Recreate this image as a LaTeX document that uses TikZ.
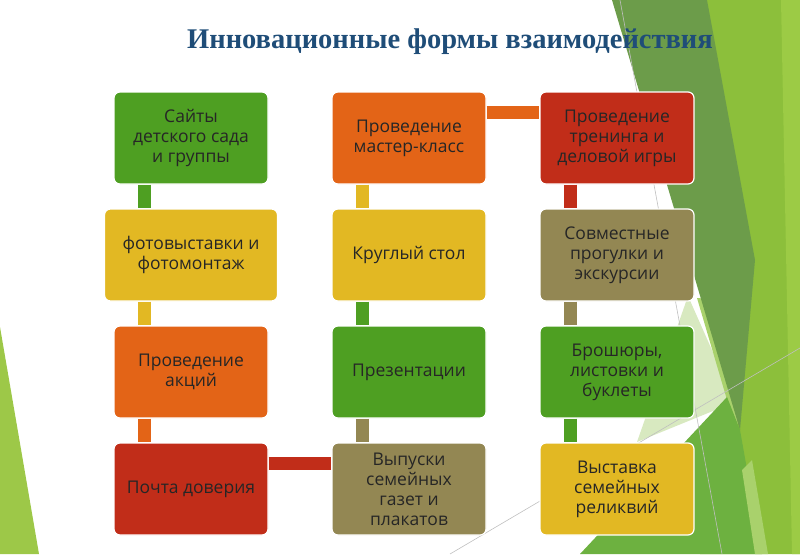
\documentclass[tikz,border=0pt]{standalone}
\usepackage{fontspec}
\setmainfont{Open Sans}
\newfontfamily\titlefont{Liberation Serif}
\usetikzlibrary{calc}

\definecolor{boxgreen}{HTML}{4E9F22}
\definecolor{boxyellow}{HTML}{E2B823}
\definecolor{boxorange}{HTML}{E36417}
\definecolor{boxred}{HTML}{C12D19}
\definecolor{boxolive}{HTML}{938753}
\definecolor{titleblue}{HTML}{1F4D78}
\definecolor{bgdark}{HTML}{6C9C4A}
\definecolor{bglight}{HTML}{8CBF3B}
\definecolor{bgstrip}{HTML}{9CCB45}
\definecolor{bgband}{HTML}{A9D16C}
\definecolor{bgmid}{HTML}{6DB140}
\definecolor{bgpale}{HTML}{D8E9C0}
\definecolor{bgleft}{HTML}{9DC848}

\tikzset{
  form/.style={draw=white, line width=1.2pt, rounded corners=6pt,
    minimum width=154pt, minimum height=92pt, inner sep=2pt, align=center,
    font=\fontsize{17.5}{20}\selectfont, text=black!85},
  link/.style={line width=13pt},
}

\begin{document}
\begin{tikzpicture}[x=1pt, y=-1pt]
    \useasboundingbox (0,0) rectangle (800,554);

    % Background facets
    \fill[bgleft] (0,327) -- (39,554) -- (0,554) -- cycle;
    \fill[bglight] (705,0) -- (800,0) -- (800,554) -- (700,554) -- (735,400) -- cycle;
    \fill[bgstrip] (781,0) -- (800,0) -- (800,554) -- (792,554) -- cycle;
    \fill[bgpale] (637,442) -- (688,296) -- (735,402) -- cycle;
    \fill[bgband] (697,298) -- (725,300) -- (738,425) -- (730,410) -- cycle;
    \fill[bgdark] (612,0) -- (707,0) -- (755,260) -- (740,430) -- cycle;
    \fill[bgmid] (580,554) -- (727,397) -- (740,430) -- (762,554) -- cycle;
    \fill[bgband] (742,470) -- (752,460) -- (768,554) -- (755,554) -- cycle;
    \draw[black!25, line width=0.6pt] (450,554) -- (800,348);
    \draw[black!25, line width=0.6pt] (620,0) -- (722,554);

    % Title
    \node[font=\titlefont\bfseries\fontsize{28.5}{32}\selectfont, text=titleblue]
        (title) at (450,42) {Инновационные формы взаимодействия};

    % Column 1
    \node[form, fill=boxgreen] (sites) at (191,138) {Сайты\\детского сада\\и группы};
    \node[form, fill=boxyellow, minimum width=173pt] (photo) at (191,255) {фотовыставки и\\фотомонтаж};
    \node[form, fill=boxorange] (actions) at (191,372) {Проведение\\акций};
    \node[form, fill=boxred] (mail) at (191,489) {Почта доверия};

    % Column 2
    \node[form, fill=boxorange] (master) at (409,138) {Проведение\\мастер-класс};
    \node[form, fill=boxyellow] (table) at (409,255) {Круглый стол};
    \node[form, fill=boxgreen] (present) at (409,372) {Презентации};
    \node[form, fill=boxolive] (papers) at (409,489) {Выпуски\\семейных\\газет и\\плакатов};

    % Column 3
    \node[form, fill=boxred] (training) at (617,138) {Проведение\\тренинга и\\деловой игры};
    \node[form, fill=boxolive] (walks) at (617,255) {Совместные\\прогулки и\\экскурсии};
    \node[form, fill=boxgreen] (booklets) at (617,372) {Брошюры,\\листовки и\\буклеты};
    \node[form, fill=boxyellow] (relics) at (617,489) {Выставка\\семейных\\реликвий};

    % Links
    \foreach \a/\b/\c in {sites/photo/boxgreen, photo/actions/boxyellow,
        actions/mail/boxorange, present/papers/boxolive, table/present/boxgreen,
        master/table/boxyellow, training/walks/boxred, walks/booklets/boxolive,
        booklets/relics/boxgreen}
        \draw[link, \c] ([xshift=-47pt]\a.south) -- ([xshift=-47pt]\b.north);
    \draw[link, boxred] ([yshift=-21.5pt]mail.north east) -- ([yshift=-21.5pt]papers.north west);
    \draw[link, boxorange] ([yshift=-21.5pt]master.north east) -- ([yshift=-21.5pt]training.north west);
\end{tikzpicture}
\end{document}
